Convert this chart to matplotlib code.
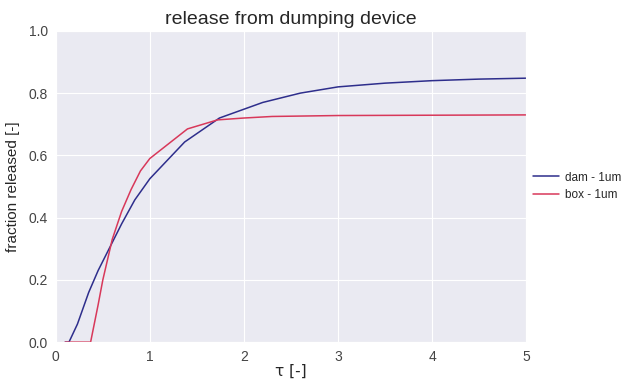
import matplotlib
matplotlib.use("Agg")
import matplotlib.pyplot as plt
import seaborn as sns

# data
dam_t = [0.1, 0.14, 0.23, 0.35, 0.45, 0.6, 0.7, 0.84, 1.0, 1.37, 1.74, 2.2, 2.6, 3.0, 3.5, 4.0, 4.5, 5.0]
dam_y = [0.0, 0.0, 0.058, 0.16, 0.23, 0.32, 0.38, 0.457, 0.525, 0.643, 0.72, 0.77, 0.80, 0.82, 0.832, 0.84, 0.845, 0.848]

box_t = [0.1, 0.37, 0.45, 0.5, 0.6, 0.7, 0.8, 0.9, 1.0, 1.4, 1.72, 2.0, 2.3, 3.0, 4.0, 5.0]
box_y = [0.0, 0.0, 0.12, 0.2, 0.33, 0.42, 0.49, 0.55, 0.59, 0.685, 0.714, 0.72, 0.725, 0.728, 0.729, 0.73]

labels = ["dam - 1um", "box - 1um"]

sns.set_style("darkgrid")
plt.rcParams['font.family'] = ['Liberation Sans', 'DejaVu Sans']

fig = plt.figure(figsize=(6.27, 3.81), dpi=100)
ax = fig.add_axes([0.089, 0.102, 0.75, 0.817])

ax.plot(dam_t, dam_y, color='#2e2e8c', linewidth=1.1, label=labels[0])
ax.plot(box_t, box_y, color='#d8385a', linewidth=1.1, label=labels[1])

ax.set_xlim(0, 5)
ax.set_ylim(0, 1.0)
ax.set_xticks([0, 1, 2, 3, 4, 5])
ax.set_yticks([0, 0.2, 0.4, 0.6, 0.8, 1.0])
ax.tick_params(labelsize=10, colors='#444444', pad=2)
ax.set_title('release from dumping device', fontsize=14, pad=5)
ax.set_xlabel('τ [-]', fontsize=11, family=['DejaVu Sans'], labelpad=0)
ax.set_ylabel('fraction released [-]', fontsize=11, labelpad=6)

# legend sits outside the axes on the right
leg = ax.legend(loc='center left', bbox_to_anchor=(1.0, 0.5), frameon=False, fontsize=8.5,
                handlelength=2.2, handletextpad=0.5, borderaxespad=0.2)

fig.savefig('out.png', dpi=100)
